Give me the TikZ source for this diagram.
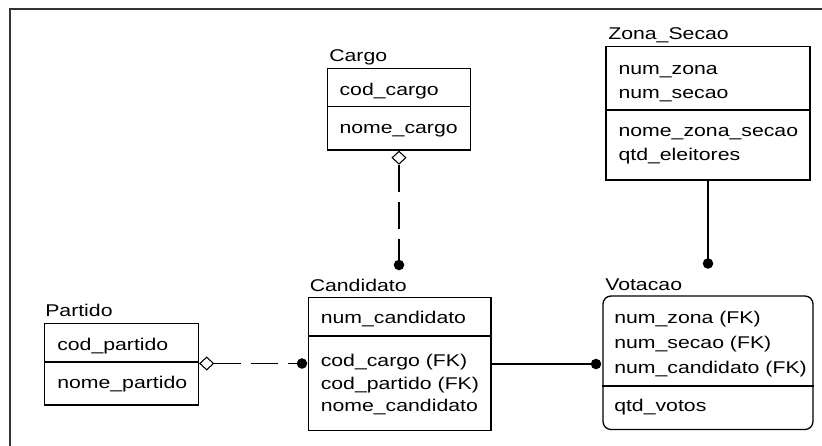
\documentclass[tikz,border=0pt]{standalone}
\usepackage{fontspec}
\setmainfont{Liberation Sans}[FakeStretch=1.25]
\usetikzlibrary{shapes.geometric}
\begin{document}
\begin{tikzpicture}[x=0.75pt,y=-0.75pt,
  box/.style={draw=black, line width=1pt, inner sep=0pt},
  rbox/.style={box, rounded corners=6pt},
  txt/.style={anchor=base west, inner sep=0pt, font=\fontsize{12.75pt}{15pt}\selectfont},
  frameline/.style={draw=black!80, line width=1.5pt},
  rel/.style={line width=1pt},
  reldash/.style={rel, dash pattern=on 20.25pt off 7.5pt},
  dotend/.style={circle, fill=black, inner sep=0pt, minimum size=7.9pt},
  diam/.style={diamond, draw=black, fill=white, line width=0.8pt, inner sep=0pt, minimum width=10.5pt, minimum height=9.75pt}
]
\useasboundingbox (0,0) rectangle (822,446);
\fill[white] (0,0) rectangle (822,446);
% outer frame (open at right and bottom)
\draw[frameline] (9.5,446) -- (9.5,9) -- (822,9);

% ---- Cargo ----
\node[box, minimum width=107.25pt, minimum height=61.1pt] (cargo) at (399,109.25) {};
\draw[line width=1pt] (cargo.west |- 0,106.5) -- (cargo.east |- 0,106.5);
\node[txt] (cargoT) at (329,61.7) {Cargo};
\node[txt] (cargo1) at (339.3,95) {cod\_cargo};
\node[txt] (cargo2) at (339.3,133.3) {nome\_cargo};

% ---- Zona_Secao ----
\node[box, minimum width=153pt, minimum height=100.1pt] (zona) at (708,113.25) {};
\draw[line width=1pt] (zona.west |- 0,110) -- (zona.east |- 0,110);
\node[txt] (zonaT) at (608,40) {Zona\_Secao};
\node[txt] (zona1) at (618.3,74.3) {num\_zona};
\node[txt] (zona2) at (618.3,98.5) {num\_secao};
\node[txt] (zona3) at (618.3,136.5) {nome\_zona\_secao};
\node[txt] (zona4) at (618.3,160) {qtd\_eleitores};

% ---- Partido ----
\node[box, minimum width=115.5pt, minimum height=61.1pt] (partido) at (121.5,364.25) {};
\draw[line width=1pt] (partido.west |- 0,362) -- (partido.east |- 0,362);
\node[txt] (partidoT) at (45,316.7) {Partido};
\node[txt] (partido1) at (57,350) {cod\_partido};
\node[txt] (partido2) at (57,388.3) {nome\_partido};

% ---- Candidato ----
\node[box, minimum width=136.9pt, minimum height=99.75pt] (cand) at (399.75,364) {};
\draw[line width=1pt] (cand.west |- 0,336) -- (cand.east |- 0,336);
\node[txt] (candT) at (309.5,291.7) {Candidato};
\node[txt] (cand1) at (320.5,323.3) {num\_candidato};
\node[txt] (cand2) at (320.5,366) {cod\_cargo (FK)};
\node[txt] (cand3) at (320.5,389) {cod\_partido (FK)};
\node[txt] (cand4) at (320.5,411.7) {nome\_candidato};

% ---- Votacao ----
\node[rbox, minimum width=157.5pt, minimum height=100.1pt] (vot) at (708,362.75) {};
\draw[line width=1pt] (vot.west |- 0,386) -- (vot.east |- 0,386);
\node[txt] (votT) at (605,290) {Votacao};
\node[txt] (vot1) at (614,323.3) {num\_zona (FK)};
\node[txt] (vot2) at (614,348.3) {num\_secao (FK)};
\node[txt] (vot3) at (614,373.3) {num\_candidato (FK)};
\node[txt] (vot4) at (614,411.7) {qtd\_votos};

% ---- Relationships ----
% Cargo -> Candidato
\node[diam, anchor=north] (dCargo) at (cargo.south) {};
\node[dotend] (eCargo) at (cargo.south |- 0,265) {};
\draw[reldash] (dCargo.south) -- (eCargo.center);

% Zona_Secao -> Votacao
\node[dotend] (eZona) at (zona.south |- 0,263.5) {};
\draw[rel] (zona.south) -- (eZona.center);

% Partido -> Candidato
\node[diam, anchor=west] (dPart) at (partido.east |- 0,363.5) {};
\node[dotend] (ePart) at (302,363.5) {};
\draw[reldash] (dPart.east) -- (ePart.center);

% Candidato -> Votacao
\coordinate (cOut) at (cand.east |- 0,364);
\node[dotend] (eCand) at (596,364) {};
\draw[rel] (cOut) -- (eCand.center);
\end{tikzpicture}
\end{document}
